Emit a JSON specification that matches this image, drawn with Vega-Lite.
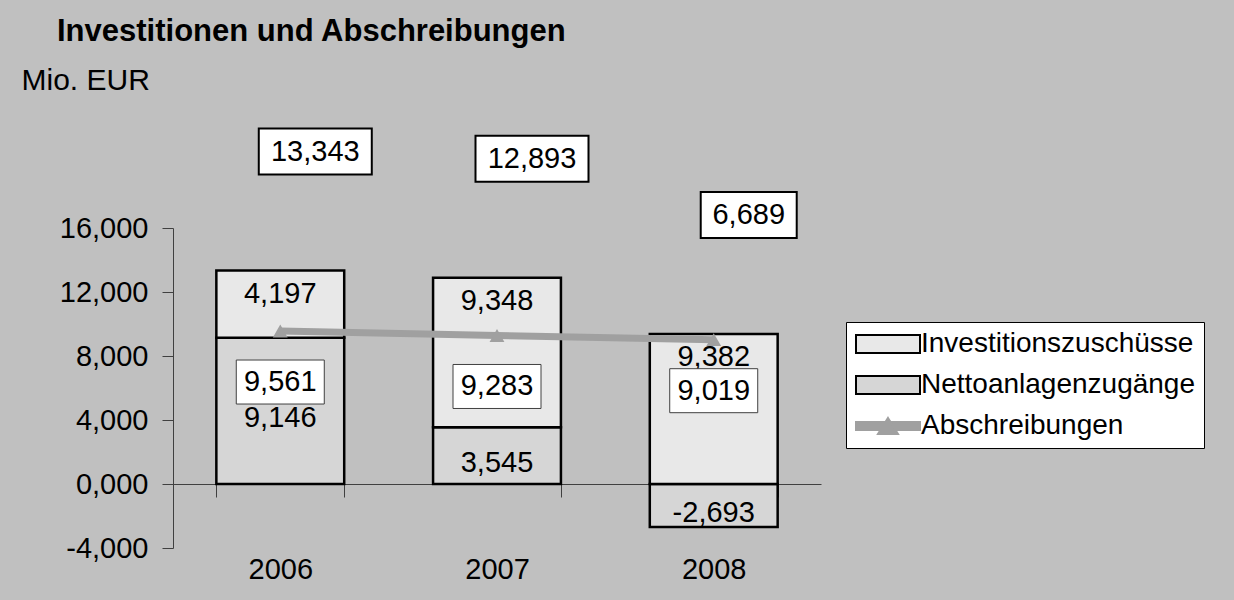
{
  "$schema": "https://vega.github.io/schema/vega-lite/v6.json",
  "width": 648,
  "height": 320,
  "autosize": {"type": "none"},
  "padding": {"left": 173, "top": 228, "right": 413, "bottom": 52},
  "background": "#c0c0c0",
  "config": {
    "view": {"stroke": null},
    "font": "Liberation Sans",
    "locale": {"number": {"decimal": ",", "thousands": ".", "grouping": [3], "currency": ["", " €"], "minus": "-"}}
  },
  "title": {
    "text": "Investitionen und Abschreibungen",
    "anchor": "start",
    "frame": "group",
    "dx": -116,
    "offset": 17,
    "fontSize": 31,
    "fontWeight": "bold",
    "color": "black",
    "font": "Liberation Sans"
  },
  "datasets": {
    "bars": [
      {"year": "2006", "series": "Nettoanlagenzugänge", "value": 9.146},
      {"year": "2006", "series": "Investitionszuschüsse", "value": 4.197},
      {"year": "2007", "series": "Nettoanlagenzugänge", "value": 3.545},
      {"year": "2007", "series": "Investitionszuschüsse", "value": 9.348},
      {"year": "2008", "series": "Nettoanlagenzugänge", "value": -2.693},
      {"year": "2008", "series": "Investitionszuschüsse", "value": 9.382}
    ],
    "line": [
      {"year": "2006", "series": "Abschreibungen", "value": 9.561},
      {"year": "2007", "series": "Abschreibungen", "value": 9.283},
      {"year": "2008", "series": "Abschreibungen", "value": 9.019}
    ]
  },
  "resolve": {"scale": {"y": "independent"}},
  "layer": [
    {
      "layer": [
        {
          "data": {"name": "bars"},
          "mark": {"type": "bar", "stroke": "black", "strokeWidth": 2.5},
          "encoding": {
            "x": {
              "field": "year", "type": "nominal",
              "scale": {"paddingInner": 0.41, "paddingOuter": 0.2},
              "axis": {
                "title": null, "labelAngle": 0, "offset": -64, "tickBand": "extent",
                "tickSize": 13, "tickColor": "#404040", "domainColor": "#404040",
                "labelPadding": 58, "labelFontSize": 29, "labelColor": "black",
                "labelFont": "Liberation Sans", "grid": false
              }
            },
            "y": {
              "field": "value", "type": "quantitative", "stack": "zero",
              "scale": {"domain": [-4, 16], "nice": false, "zero": false},
              "axis": {
                "title": "Mio. EUR", "titleAngle": 0, "titleAlign": "left", "titleBaseline": "middle",
                "titleX": -152, "titleY": -148, "titleFontSize": 30, "titleFontWeight": "normal",
                "titleColor": "black", "titleFont": "Liberation Sans",
                "values": [-4, 0, 4, 8, 12, 16], "format": ".3f",
                "tickSize": 11, "labelPadding": 14, "labelFontSize": 29, "labelColor": "black",
                "labelFont": "Liberation Sans",
                "domainColor": "#404040", "tickColor": "#404040", "grid": false
              }
            },
            "color": {
              "field": "series", "type": "nominal",
              "scale": {
                "domain": ["Investitionszuschüsse", "Nettoanlagenzugänge", "Abschreibungen"],
                "range": ["#e8e8e8", "#d6d6d6", "#a0a0a0"]
              },
              "legend": {
                "orient": "none", "legendX": 673, "legendY": 94, "title": null,
                "fillColor": "white", "strokeColor": "black", "padding": 8,
                "labelFont": "Liberation Sans", "labelFontSize": 28, "labelColor": "black",
                "labelLimit": 500,
                "symbolSize": 400,
                "symbolType": {"expr": "datum.value == 'Abschreibungen' ? 'M-3.2,-0.4H3.2V0.4H-3.2Z M0,-0.8L1,0.8H-1Z' : 'M-3.2,-0.9H3.2V0.9H-3.2Z'"},
                "symbolFillColor": {"expr": "datum.value == 'Abschreibungen' ? '#a0a0a0' : (datum.value == 'Nettoanlagenzugänge' ? '#d6d6d6' : '#e8e8e8')"},
                "symbolStrokeColor": {"expr": "datum.value == 'Abschreibungen' ? '#a0a0a0' : 'black'"},
                "symbolStrokeWidth": 2,
                "symbolOpacity": 1,
                "symbolOffset": 20,
                "labelOffset": 19,
                "rowPadding": 13
              }
            },
            "order": {"field": "series", "sort": "descending"}
          }
        },
        {
          "data": {"name": "line"},
          "mark": {"type": "line", "strokeWidth": 7, "color": "#a0a0a0"},
          "encoding": {
            "x": {"field": "year", "type": "nominal"},
            "y": {"field": "value", "type": "quantitative"}
          }
        },
        {
          "data": {"name": "line"},
          "mark": {"type": "point", "shape": "triangle-up", "filled": true, "color": "#a0a0a0", "size": 220, "opacity": 1},
          "encoding": {
            "x": {"field": "year", "type": "nominal"},
            "y": {"field": "value", "type": "quantitative"}
          }
        },
        {
          "data": {"name": "bars"},
          "transform": [
            {"stack": "value", "groupby": ["year"], "sort": [{"field": "series", "order": "descending"}], "as": ["v0", "v1"]},
            {"filter": "datum.series === 'Investitionszuschüsse'"}
          ],
          "mark": {"type": "text", "fontSize": 29, "color": "black", "dy": 23, "font": "Liberation Sans"},
          "encoding": {
            "x": {"field": "year", "type": "nominal"},
            "y": {"field": "v1", "type": "quantitative"},
            "text": {"field": "value", "type": "quantitative", "format": ".3f"}
          }
        },
        {
          "data": {"name": "line"},
          "mark": {"type": "point", "shape": "M-1,-0.5H1V0.5H-1Z", "size": 7744, "filled": true, "fill": "white", "stroke": "#404040", "strokeWidth": 1, "opacity": 1, "fillOpacity": 1, "yOffset": 51},
          "encoding": {
            "x": {"field": "year", "type": "nominal"},
            "y": {"field": "value", "type": "quantitative"}
          }
        },
        {
          "data": {"name": "line"},
          "mark": {"type": "text", "fontSize": 29, "color": "black", "yOffset": 51, "font": "Liberation Sans"},
          "encoding": {
            "x": {"field": "year", "type": "nominal"},
            "y": {"field": "value", "type": "quantitative"},
            "text": {"field": "value", "type": "quantitative", "format": ".3f"}
          }
        },
        {
          "data": {"name": "bars"},
          "transform": [
            {"joinaggregate": [{"op": "sum", "field": "value", "as": "total"}], "groupby": ["year"]},
            {"filter": "datum.value > 0"},
            {"aggregate": [{"op": "sum", "field": "value", "as": "top"}, {"op": "max", "field": "total", "as": "total"}], "groupby": ["year"]}
          ],
          "mark": {"type": "point", "filled": true, "fill": "white", "stroke": "black", "strokeWidth": 2, "opacity": 1, "fillOpacity": 1, "xOffset": 35, "yOffset": -119},
          "encoding": {
            "x": {"field": "year", "type": "nominal"},
            "y": {"field": "top", "type": "quantitative"},
            "shape": {"condition": {"test": "datum.total >= 10", "value": "M-1,-0.407H1V0.407H-1Z"}, "value": "M-1,-0.479H1V0.479H-1Z"},
            "size": {"condition": {"test": "datum.total >= 10", "value": 12769}, "value": 9216}
          }
        },
        {
          "data": {"name": "bars"},
          "transform": [
            {"joinaggregate": [{"op": "sum", "field": "value", "as": "total"}], "groupby": ["year"]},
            {"filter": "datum.value > 0"},
            {"aggregate": [{"op": "sum", "field": "value", "as": "top"}, {"op": "max", "field": "total", "as": "total"}], "groupby": ["year"]}
          ],
          "mark": {"type": "text", "fontSize": 29, "color": "black", "xOffset": 35, "yOffset": -119, "font": "Liberation Sans"},
          "encoding": {
            "x": {"field": "year", "type": "nominal"},
            "y": {"field": "top", "type": "quantitative"},
            "text": {"field": "total", "type": "quantitative", "format": ".3f"}
          }
        }
      ]
    },
    {
      "data": {"name": "bars"},
      "transform": [{"filter": "datum.series === 'Nettoanlagenzugänge'"}],
      "mark": {"type": "text", "fontSize": 29, "color": "black", "dy": 7, "font": "Liberation Sans"},
      "encoding": {
        "x": {"field": "year", "type": "nominal"},
        "y": {"field": "value", "type": "quantitative", "scale": {"domain": [-8, 32], "nice": false, "zero": false}, "axis": null},
        "text": {"field": "value", "type": "quantitative", "format": ".3f"}
      }
    }
  ]
}
